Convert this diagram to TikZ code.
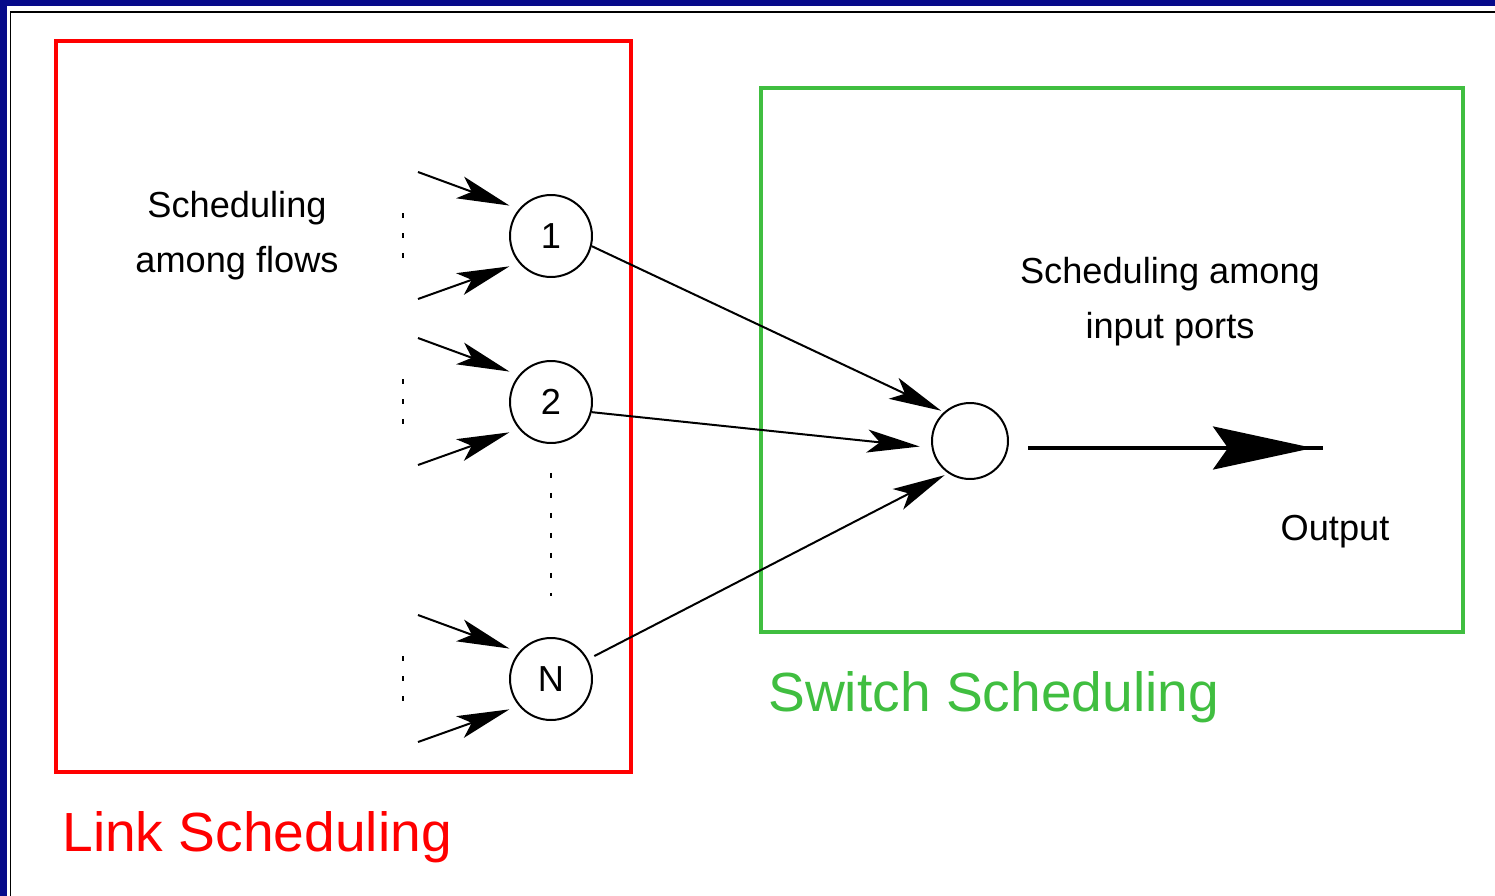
\documentclass[tikz,border=0pt]{standalone}
\usepackage{fontspec}
\setmainfont{Liberation Sans}
\usetikzlibrary{arrows.meta}

\definecolor{framenavy}{RGB}{6,10,138}
\definecolor{switchgreen}{RGB}{64,190,64}

\tikzstyle{queue} = [draw, circle, line width=0.04cm, minimum size=1.64cm, inner sep=0pt, font=\fontsize{20.6}{24}\selectfont]
\tikzstyle{txt} = [align=center, font=\fontsize{20.6}{31.2}\selectfont]
\tikzstyle{areatitle} = [anchor=west, inner sep=0pt, font=\fontsize{31.4}{36}\selectfont]
\tikzstyle{flow} = [-{Stealth[length=1.05cm,width=0.46cm,inset=0.25cm]}, line width=0.04cm]
\tikzstyle{bigflow} = [-{Stealth[length=2cm,width=0.86cm,inset=0.3cm]}, line width=0.08cm]
\tikzstyle{dotcol} = [line width=0.04cm, dash pattern=on 0.1cm off 0.3cm]

\begin{document}
\begin{tikzpicture}[x=0.02cm,y=-0.02cm]
            %
            % The slide frame
            \useasboundingbox (0,0) rectangle (1495,896);
            \fill[framenavy] (0,0) rectangle (1495,6);
            \fill[framenavy] (0,0) rectangle (7,896);
            \draw[line width=0.04cm] (10.5,896) -- (10.5,11.5) -- (1495,11.5);
            %
            % We start by placing the two areas and their titles
            \draw[red, line width=0.08cm] (55.5,40.5) rectangle (631,772);
            \draw[switchgreen, line width=0.08cm] (761,88) rectangle (1462.5,632);
            \node[areatitle, red] (linktitle) at (62,837) {Link Scheduling};
            \node[areatitle, switchgreen] (switchtitle) at (768,697) {Switch Scheduling};
            %
            % Then the queues and the output port
            \node[queue] (q1) at (551,236) {1};
            \node[queue] (q2) at (551,402) {2};
            \node[queue] (qN) at (551,679) {N};
            \node[queue, minimum size=1.52cm] (out) at (970,441) {};
            \draw[dotcol, shorten <=0.58cm, shorten >=0.82cm] (q2) -- (qN);
            %
            % Flows coming into each queue
            \foreach \q/\y in {q1/236, q2/402, qN/679} {
                \coordinate (\q-top) at (418,\y-64);
                \coordinate (\q-bot) at (418,\y+63);
                \draw[flow, shorten >=0.2cm] (\q-top) -- (\q.140);
                \draw[flow, shorten >=0.2cm] (\q-bot) -- (\q.220);
                \draw[dotcol] (403,\y-23) -- (403,\y+22);
            }
            %
            % Queues to the switch
            \draw[flow, shorten >=0.06cm] (q1.-14) -- (out.132);
            \draw[flow, shorten >=0.24cm] (q2.-14) -- (out.190);
            \draw[flow, shorten <=0.14cm, shorten >=0.08cm] (qN.28) -- (out.236);
            %
            % Output link
            \coordinate (outstart) at (1028,448);
            \coordinate (outtip) at (1313,448);
            \coordinate (outend) at (1323,448);
            \draw[line width=0.08cm] (outstart) -- (outend);
            \draw[bigflow] (outstart) -- (outtip);
            %
            % Texts
            \node[txt] (flowtext) at (237,236) {Scheduling\\among flows};
            \node[txt] (porttext) at (1170,302) {Scheduling among\\input ports};
            \node[txt] (outtext) at (1335,532) {Output};
            %
        \end{tikzpicture}
\end{document}
